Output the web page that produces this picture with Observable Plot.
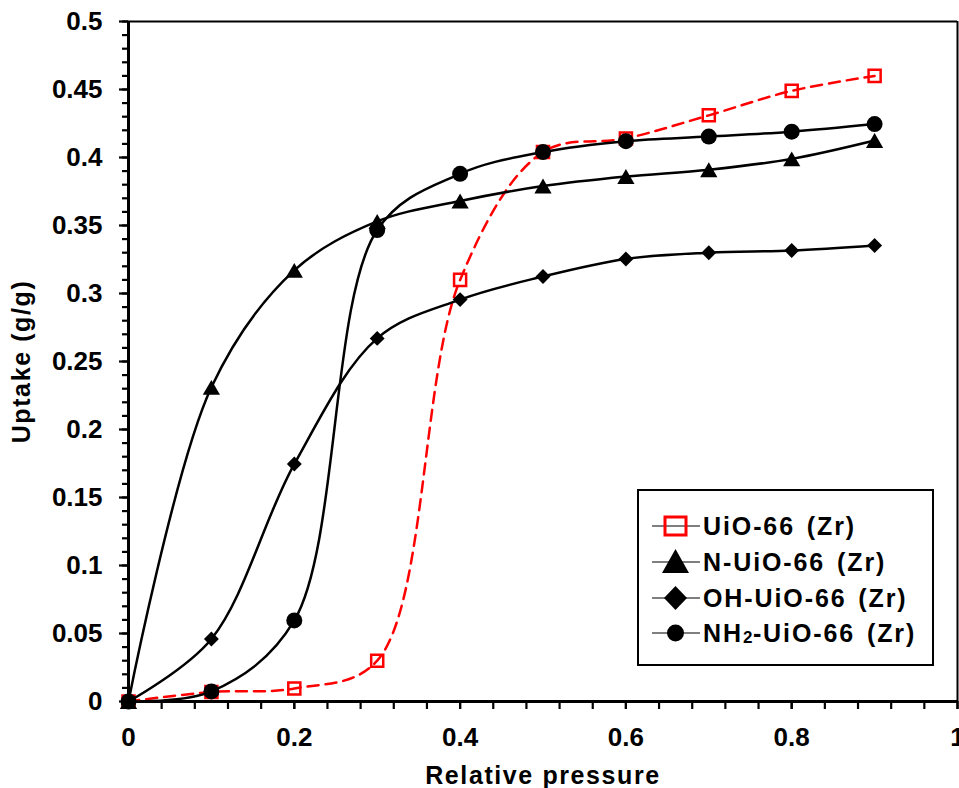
<!DOCTYPE html>
<html>
<head>
<meta charset="utf-8">
<script src="https://cdn.jsdelivr.net/npm/d3@7"></script>
<script src="https://cdn.jsdelivr.net/npm/@observablehq/plot@0.6"></script>
<style>
  html, body { margin: 0; padding: 0; background: #fff; }
  #wrap { position: relative; width: 959px; height: 788px; overflow: hidden; }
  #wrap svg text { font-family: "Liberation Sans", Arial, sans-serif; font-weight: bold; }
  .legend { position: absolute; left: 637px; top: 489px; width: 293px; height: 173px;
    border: 2.5px solid #000; background: #fff; box-sizing: content-box; }
  .legend .row { position: absolute; left: 12px; height: 36px; display: flex; align-items: center; }
  .legend .row span.t { font-family: "Liberation Sans", Arial, sans-serif; font-weight: bold;
    font-size: 25px; letter-spacing: 1.9px; word-spacing: 3px; color: #000; margin-left: 2px; white-space: pre; }
  .legend sub { font-size: 17px; vertical-align: -1px; letter-spacing: 0.5px; }
</style>
</head>
<body>
<div id="wrap"></div>
<script>
// ---- data ----
const pressure = [0, 0.1, 0.2, 0.3, 0.4, 0.5, 0.6, 0.7, 0.8, 0.9];
const uio66    = [0, 0.007, 0.0096, 0.030, 0.310, 0.404, 0.414, 0.431, 0.449, 0.460];
const nUio66   = [0, 0.231, 0.317, 0.353, 0.368, 0.379, 0.386, 0.391, 0.399, 0.4125];
const ohUio66  = [0, 0.046, 0.1746, 0.267, 0.2955, 0.3125, 0.3254, 0.330, 0.3316, 0.3353];
const nh2Uio66 = [0, 0.0074, 0.0596, 0.3467, 0.388, 0.404, 0.412, 0.4154, 0.419, 0.4246];

const seriesNames = ["UiO-66 (Zr)", "N-UiO-66 (Zr)", "OH-UiO-66 (Zr)", "NH2-UiO-66 (Zr)"];

const xTicks = [0, 0.2, 0.4, 0.6, 0.8, 1];
const xTickLabels = ["0", "0.2", "0.4", "0.6", "0.8", "1"];
const yTicks = [0, 0.05, 0.1, 0.15, 0.2, 0.25, 0.3, 0.35, 0.4, 0.45, 0.5];
const yTickLabels = ["0", "0.05", "0.1", "0.15", "0.2", "0.25", "0.3", "0.35", "0.4", "0.45", "0.5"];

const toRows = (vals) => pressure.map((p, i) => ({x: p, y: vals[i]}));
const dUio = toRows(uio66), dN = toRows(nUio66), dOH = toRows(ohUio66), dNH2 = toRows(nh2Uio66);

const xMinor = d3.range(0, 1.0001, 0.04).map(v => +v.toFixed(2));
const yMinor = d3.range(0, 0.5001, 0.01).map(v => +v.toFixed(2));

const red = "#ff0000";
const curve = "catmull-rom";
const chart = Plot.plot({
  width: 959, height: 788,
  marginLeft: 128, marginRight: 2, marginTop: 21, marginBottom: 87,
  style: {fontFamily: "Liberation Sans, Arial, sans-serif", fontWeight: "bold", fontSize: "26px", background: "#fff", overflow: "visible"},
  x: {domain: [0, 1]},
  y: {domain: [0, 0.5]},
  marks: [
    // frame (top & right)
    Plot.ruleY([0.5], {stroke: "#000", strokeWidth: 2}),
    Plot.ruleX([1], {stroke: "#000", strokeWidth: 2}),
    // minor ticks
    Plot.axisY(yMinor, {tickSize: 6, text: null, strokeWidth: 2.2, label: null}),
    Plot.axisX(xMinor, {tickSize: 8, text: null, strokeWidth: 2.2, label: null}),
    // major ticks & labels
    Plot.axisY(yTicks, {tickSize: 9, tickPadding: 17, strokeWidth: 2.2,
      tickFormat: (d) => yTickLabels[yTicks.indexOf(d)],
      fontSize: 26, letterSpacing: 1,
      label: "Uptake (g/g)", labelAnchor: "center", labelOffset: 116, labelArrow: "none"}),
    Plot.axisX(xTicks, {tickSize: 8, tickPadding: 18, strokeWidth: 2.2,
      tickFormat: (d) => xTickLabels[xTicks.indexOf(d)],
      fontSize: 26, letterSpacing: 1,
      label: "Relative pressure", labelAnchor: "center", labelOffset: 82, labelArrow: "none"}),
    // axis lines
    Plot.ruleX([0], {stroke: "#000", strokeWidth: 3}),
    Plot.ruleY([0], {stroke: "#000", strokeWidth: 3}),
    // UiO-66 (red dashed, open squares)
    Plot.line(dUio, {x: "x", y: "y", curve, stroke: red, strokeWidth: 2.5, strokeDasharray: "11,7"}),
    Plot.dot(dUio, {x: "x", y: "y", symbol: "square", r: 6.8, fill: "none", stroke: red, strokeWidth: 2.5}),
    // N-UiO-66 (triangles)
    Plot.line(dN, {x: "x", y: "y", curve, stroke: "#000", strokeWidth: 2.5}),
    Plot.dot(dN, {x: "x", y: "y", symbol: "triangle", r: 6.4, fill: "#000", stroke: "none", dy: 2.5}),
    // OH-UiO-66 (diamonds)
    Plot.line(dOH, {x: "x", y: "y", curve, stroke: "#000", strokeWidth: 2.5}),
    Plot.dot(dOH, {x: "x", y: "y", symbol: "diamond2", r: 6.7, fill: "#000", stroke: "none"}),
    // NH2-UiO-66 (circles)
    Plot.line(dNH2, {x: "x", y: "y", curve, stroke: "#000", strokeWidth: 2.5}),
    Plot.dot(dNH2, {x: "x", y: "y", symbol: "circle", r: 8, fill: "#000", stroke: "none"})
  ]
});
const wrap = document.getElementById("wrap");
wrap.appendChild(chart);
// axis title sizes
chart.querySelectorAll("g[aria-label='y-axis label'] text, g[aria-label='x-axis label'] text").forEach(t => {
  t.setAttribute("font-size", "25");
  t.style.letterSpacing = "1.6px";
});

// ---- legend ----
const legendSymbols = [
  `<rect x="14" y="8" width="21" height="18" fill="none" stroke="${red}" stroke-width="3"/>`,
  `<path d="M24.5 4 L38 28 L11 28 Z" fill="#000"/>`,
  `<path d="M24.5 5 L36 17 L24.5 29 L13 17 Z" fill="#000"/>`,
  `<circle cx="24.5" cy="17" r="8.5" fill="#000"/>`
];
const legendLabels = [
  "UiO-66 (Zr)", "N-UiO-66 (Zr)", "OH-UiO-66 (Zr)", "NH<sub>2</sub>-UiO-66 (Zr)"
];
const legend = document.createElement("div");
legend.className = "legend";
const rowTops = [17, 53, 89, 124];
seriesNames.forEach((name, i) => {
  const row = document.createElement("div");
  row.className = "row";
  row.style.top = rowTops[i] + "px";
  row.innerHTML = `<svg width="50" height="34" viewBox="0 0 50 34"><line x1="1" y1="17" x2="49" y2="17" stroke="#000" stroke-width="1.2"/>${legendSymbols[i]}</svg><span class="t">${legendLabels[i]}</span>`;
  legend.appendChild(row);
});
wrap.appendChild(legend);
</script>
</body>
</html>
